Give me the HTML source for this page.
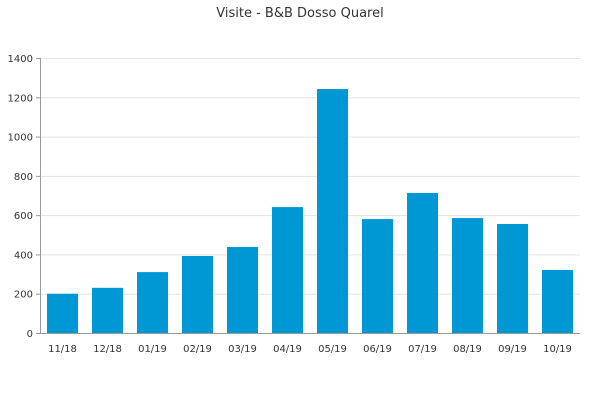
<!DOCTYPE html>
<html><head><meta charset="utf-8"><style>
body{margin:0;background:#fff;font-family:"DejaVu Sans","Liberation Sans",sans-serif;}
svg text{font-family:"DejaVu Sans","Liberation Sans",sans-serif;}
</style></head><body>
<svg id="chart" width="600" height="400">
<text x="300" y="17" text-anchor="middle" font-size="13" fill="#333">Visite - B&amp;B Dosso Quarel</text>
<g id="grid"></g><g id="bars"></g><g id="axes"></g>
</svg>
<script>
const categories=["11/18","12/18","01/19","02/19","03/19","04/19","05/19","06/19","07/19","08/19","09/19","10/19"];
const visits=[200,230,310,392,438,641,1242,580,713,585,555,321];
const yTicks=[0,200,400,600,800,1000,1200,1400];
const NS="http://www.w3.org/2000/svg";
const L=40,R=580,T=58,B=333,yMax=1400;
const y=v=>B-(v/yMax)*(B-T);
const slot=(R-L)/categories.length;
const x=i=>L+slot*i;
function mk(t,a,p){const e=document.createElementNS(NS,t);for(const k in a)e.setAttribute(k,a[k]);p.appendChild(e);return e;}
const grid=document.getElementById('grid'),bars=document.getElementById('bars'),axes=document.getElementById('axes');
yTicks.forEach(v=>{
 const g=mk('line',{x1:L,x2:R,y1:y(v)+0.5,y2:y(v)+0.5,stroke:'#e3e3e3'},grid);
 
 
 const tk=mk('line',{x1:L-4,x2:L,y1:y(v)+0.5,y2:y(v)+0.5,stroke:'#999'},axes);
 
 
 const t=mk('text',{x:L-7,y:y(v)+4,'text-anchor':'end','font-size':'10',fill:'#333'},axes);
 t.textContent=v;
 
 
});
categories.forEach((c,i)=>{
 const bw=31;
 const r=mk('rect',{x:x(i)+(slot-bw)/2,y:y(visits[i]),width:bw,height:B-y(visits[i]),fill:'#0098d4'},bars);
 
 
 const t=mk('text',{x:x(i)+slot/2,y:B+19,'text-anchor':'middle','font-size':'10',fill:'#333'},axes);
 t.textContent=c;
 
 
});
const ya=mk('line',{x1:L+0.5,x2:L+0.5,y1:T,y2:B,stroke:'#999'},axes);


const xa=mk('line',{x1:L,x2:R,y1:B+0.5,y2:B+0.5,stroke:'#999'},axes);


</script>
</body></html>
